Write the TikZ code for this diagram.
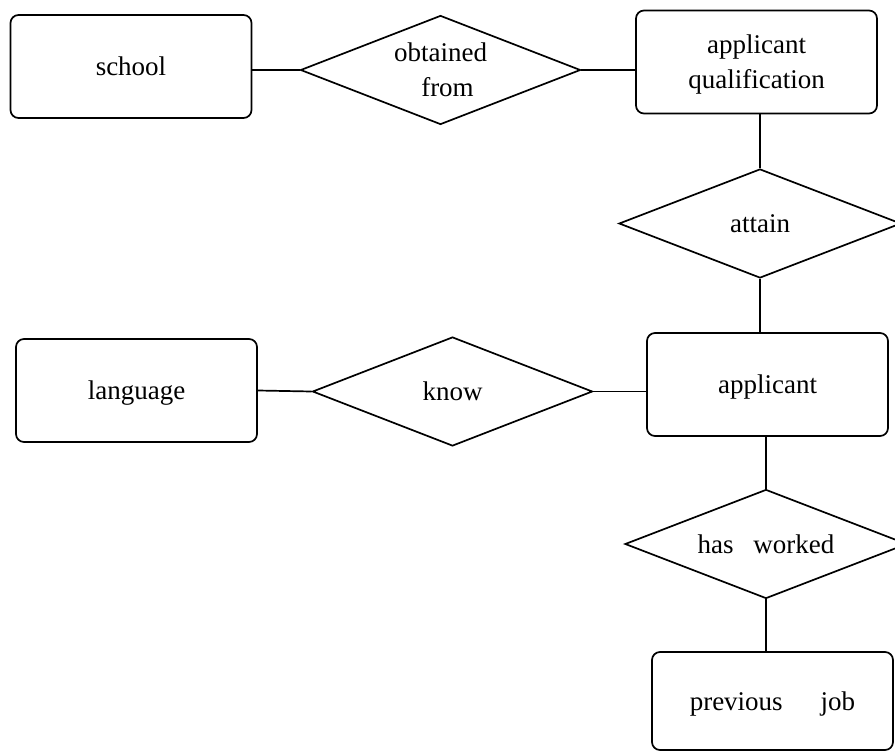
\documentclass[tikz,border=0pt]{standalone}
\usepackage{fontspec}
\setmainfont{Liberation Serif}
\usetikzlibrary{shapes.geometric}

\tikzset{
	entity/.style={draw, rounded corners=8pt, line width=1.7pt, minimum width=241pt, minimum height=103pt, inner sep=0pt, text depth=0pt, align=center, font=\fontsize{27}{35}\selectfont},
	relation/.style={draw, diamond, aspect=2.5, inner sep=0pt, line width=1.7pt, minimum width=280pt, minimum height=109pt, text depth=0pt, align=center, font=\fontsize{27}{35}\selectfont},
	link/.style={line width=1.7pt}
}

\begin{document}
\begin{tikzpicture}[x=1pt, y=-1pt]
		\useasboundingbox (0,0) rectangle (895,752);

		% entities
		\node[entity] (school) at (131,66.5) {school};
		\node[entity] (qual) at (756.5,62) {applicant\\qualification};
		\node[entity] (applicant) at (767.5,384.5) {applicant};
		\node[entity] (language) at (136.5,390.5) {language};
		\node[entity, minimum height=98pt] (job) at (772.5,701) {previous\hspace{38pt}job};

		% relations
		\node[relation] (obtained) at (440.5,70) {obtained\\\hspace{14pt}from};
		\node[relation, minimum width=282pt] (attain) at (760,223.5) {attain};
		\node[relation] (know) at (452.5,391.5) {know};
		\node[relation, minimum width=282pt] (worked) at (766,544) {has\hspace{20pt}worked};

		\draw[link] (school.east |- obtained.west) -- (obtained.west);
		\draw[link] (obtained.east) -- (obtained.east -| qual.west);
		\draw[link] (qual.south -| attain.north) -- (attain.north);
		\draw[link] (attain.south) -- (attain.south |- applicant.north);
		\draw[link] (language.east) -- (know.west);
		\draw[link] (know.east) -- (know.east -| applicant.west);
		\draw[link] (applicant.south -| worked.north) -- (worked.north);
		\draw[link] (worked.south) -- (worked.south |- job.north);

	\end{tikzpicture}
\end{document}
